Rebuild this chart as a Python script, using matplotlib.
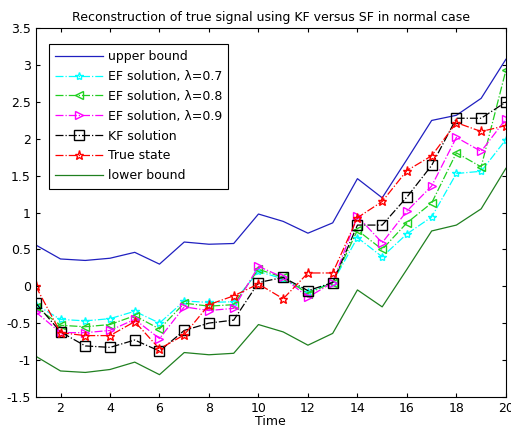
import numpy as np
import matplotlib
matplotlib.use('Agg')
import matplotlib.pyplot as plt
from matplotlib.ticker import FormatStrFormatter

# Values
time = np.arange(1, 21)

upper = [0.56, 0.37, 0.35, 0.38, 0.46, 0.30, 0.60, 0.57, 0.58, 0.98,
         0.88, 0.72, 0.86, 1.46, 1.20, 1.72, 2.25, 2.32, 2.55, 3.08]
lower = [-0.95, -1.15, -1.17, -1.13, -1.03, -1.20, -0.90, -0.93, -0.91, -0.52,
         -0.62, -0.80, -0.64, -0.05, -0.28, 0.23, 0.75, 0.83, 1.05, 1.60]
ef07 = [-0.25, -0.45, -0.47, -0.44, -0.34, -0.50, -0.20, -0.22, -0.21, 0.20,
        0.10, -0.08, 0.05, 0.66, 0.40, 0.71, 0.94, 1.53, 1.56, 1.99]
ef08 = [-0.28, -0.53, -0.55, -0.52, -0.40, -0.58, -0.23, -0.27, -0.25, 0.23,
        0.12, -0.10, 0.05, 0.76, 0.50, 0.86, 1.13, 1.81, 1.62, 2.93]
ef09 = [-0.35, -0.63, -0.63, -0.60, -0.45, -0.71, -0.28, -0.33, -0.30, 0.27,
        0.12, -0.15, 0.05, 0.95, 0.59, 1.02, 1.36, 2.02, 1.83, 2.27]
kf = [-0.23, -0.62, -0.81, -0.83, -0.73, -0.88, -0.60, -0.50, -0.46, 0.05,
      0.12, -0.06, 0.05, 0.83, 0.83, 1.21, 1.64, 2.28, 2.28, 2.50]
true_state = [0.00, -0.63, -0.67, -0.67, -0.48, -0.85, -0.66, -0.25, -0.13, 0.03,
              -0.17, 0.18, 0.18, 0.93, 1.15, 1.57, 1.77, 2.22, 2.10, 2.18]

fig = plt.figure(figsize=(5.11, 4.36), dpi=100)
ax = fig.add_axes([0.07, 0.09, 0.92, 0.845])

ax.plot(time, upper, color='#2020c0', lw=0.9, label='upper bound')
ax.plot(time, ef07, color='cyan', ls='-.', lw=0.9, marker='*', ms=6,
        mfc='none', label='EF solution, λ=0.7')
ax.plot(time, ef08, color='#20d020', ls='-.', lw=0.9, marker='<', ms=6,
        mfc='none', label='EF solution, λ=0.8')
ax.plot(time, ef09, color='magenta', ls='-.', lw=0.9, marker='>', ms=6,
        mfc='none', label='EF solution, λ=0.9')
ax.plot(time, kf, color='black', ls='-.', lw=0.9, marker='s', ms=6.5,
        mfc='none', label='KF solution')
ax.plot(time, true_state, color='red', ls='-.', lw=0.9, marker='*', ms=6.5,
        mfc='none', label='True state')
ax.plot(time, lower, color='#208020', lw=0.9, label='lower bound')

ax.set_xlim(1, 20)
ax.set_ylim(-1.5, 3.5)
ax.set_xticks(np.arange(2, 21, 2))
ax.set_yticks(np.arange(-1.5, 3.51, 0.5))
ax.yaxis.set_major_formatter(FormatStrFormatter('%g'))
ax.tick_params(direction='in', top=True, right=True, labelsize=9, length=3)
ax.set_xlabel('Time', fontsize=9, labelpad=0)
ax.set_title('Reconstruction of true signal using KF versus SF in normal case',
             fontsize=9, pad=5)

leg = ax.legend(loc='upper left', bbox_to_anchor=(0.015, 0.975), fontsize=9,
                fancybox=False, edgecolor='black', framealpha=1,
                handlelength=3.8, labelspacing=0.55, borderpad=0.5,
                handletextpad=0.4)
leg.get_frame().set_linewidth(0.8)

fig.savefig('out.png', dpi=100)
